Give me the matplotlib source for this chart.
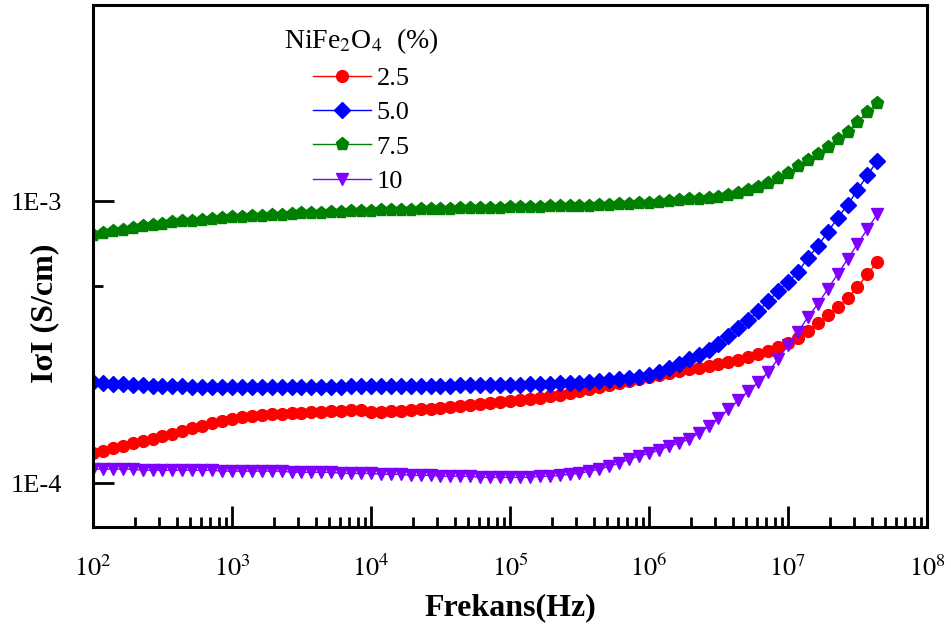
import numpy as np
import matplotlib
matplotlib.use("Agg")
import matplotlib.pyplot as plt
from matplotlib.ticker import FixedLocator, FixedFormatter, NullFormatter, LogLocator

plt.rcParams['font.family'] = ['Liberation Serif', 'DejaVu Serif']
plt.rcParams['mathtext.fontset'] = 'stix'

# frequency sweep (Hz)
freq = [
    100, 118, 139, 164, 193, 228, 268, 316, 373, 439, 518, 611, 720, 848,
    1000, 1179, 1389, 1638, 1931, 2276, 2683, 3162, 3728, 4394, 5179, 6105, 7197, 8483,
    1.000e4, 1.179e4, 1.389e4, 1.638e4, 1.931e4, 2.276e4, 2.683e4, 3.162e4, 3.728e4, 4.394e4, 5.179e4, 6.105e4, 7.197e4, 8.483e4,
    1.000e5, 1.179e5, 1.389e5, 1.638e5, 1.931e5, 2.276e5, 2.683e5, 3.162e5, 3.728e5, 4.394e5, 5.179e5, 6.105e5, 7.197e5, 8.483e5,
    1.000e6, 1.179e6, 1.389e6, 1.638e6, 1.931e6, 2.276e6, 2.683e6, 3.162e6, 3.728e6, 4.394e6, 5.179e6, 6.105e6, 7.197e6, 8.483e6,
    1.000e7, 1.179e7, 1.389e7, 1.638e7, 1.931e7, 2.276e7, 2.683e7, 3.162e7, 3.728e7, 4.394e7,
]

# log10 of |sigma| (S/cm)
log_s_25 = [
    -3.894, -3.887, -3.876, -3.869, -3.858, -3.851, -3.844, -3.833, -3.826, -3.816, -3.805, -3.798, -3.787, -3.780,
    -3.773, -3.766, -3.762, -3.759, -3.755, -3.755, -3.752, -3.752, -3.748, -3.748, -3.745, -3.745, -3.741, -3.741,
    -3.748, -3.748, -3.745, -3.745, -3.741, -3.738, -3.738, -3.734, -3.730, -3.727, -3.723, -3.720, -3.716, -3.713,
    -3.709, -3.706, -3.702, -3.699, -3.691, -3.688, -3.681, -3.674, -3.667, -3.660, -3.652, -3.645, -3.638, -3.631,
    -3.624, -3.617, -3.610, -3.603, -3.596, -3.592, -3.585, -3.578, -3.571, -3.564, -3.553, -3.543, -3.532, -3.518,
    -3.504, -3.486, -3.461, -3.433, -3.404, -3.376, -3.344, -3.305, -3.259, -3.216,
]
log_s_50 = [
    -3.642, -3.645, -3.647, -3.649, -3.651, -3.653, -3.654, -3.655, -3.656, -3.657, -3.658, -3.659, -3.659, -3.660,
    -3.660, -3.660, -3.660, -3.660, -3.660, -3.660, -3.659, -3.659, -3.659, -3.658, -3.658, -3.658, -3.657, -3.657,
    -3.656, -3.656, -3.656, -3.655, -3.655, -3.655, -3.654, -3.654, -3.654, -3.653, -3.653, -3.652, -3.652, -3.652,
    -3.652, -3.651, -3.650, -3.649, -3.648, -3.646, -3.645, -3.643, -3.640, -3.637, -3.634, -3.631, -3.628, -3.624,
    -3.617, -3.604, -3.590, -3.577, -3.560, -3.544, -3.526, -3.508, -3.479, -3.450, -3.422, -3.390, -3.355, -3.319,
    -3.287, -3.252, -3.202, -3.160, -3.110, -3.060, -3.014, -2.961, -2.908, -2.858,
]
log_s_75 = [
    -3.120, -3.113, -3.107, -3.101, -3.095, -3.090, -3.085, -3.080, -3.076, -3.072, -3.069, -3.066, -3.063, -3.061,
    -3.058, -3.056, -3.054, -3.052, -3.050, -3.048, -3.046, -3.044, -3.043, -3.041, -3.040, -3.038, -3.037, -3.035,
    -3.034, -3.033, -3.032, -3.031, -3.030, -3.029, -3.028, -3.027, -3.027, -3.026, -3.025, -3.024, -3.024, -3.023,
    -3.022, -3.021, -3.021, -3.020, -3.019, -3.019, -3.018, -3.017, -3.016, -3.015, -3.013, -3.012, -3.010, -3.008,
    -3.006, -3.003, -3.000, -2.997, -2.994, -2.991, -2.988, -2.984, -2.978, -2.970, -2.961, -2.950, -2.936, -2.920,
    -2.902, -2.877, -2.853, -2.832, -2.807, -2.781, -2.755, -2.720, -2.686, -2.652,
]
log_s_10 = [
    -3.950, -3.950, -3.950, -3.950, -3.950, -3.954, -3.954, -3.954, -3.954, -3.954, -3.954, -3.954, -3.954, -3.957,
    -3.957, -3.957, -3.957, -3.957, -3.957, -3.957, -3.961, -3.961, -3.961, -3.961, -3.961, -3.965, -3.965, -3.965,
    -3.965, -3.968, -3.968, -3.968, -3.972, -3.972, -3.972, -3.975, -3.975, -3.975, -3.975, -3.979, -3.979, -3.979,
    -3.979, -3.979, -3.979, -3.975, -3.975, -3.972, -3.968, -3.965, -3.957, -3.950, -3.940, -3.929, -3.915, -3.904,
    -3.894, -3.883, -3.869, -3.858, -3.844, -3.823, -3.798, -3.770, -3.738, -3.706, -3.674, -3.642, -3.606, -3.560,
    -3.511, -3.465, -3.411, -3.365, -3.312, -3.259, -3.206, -3.152, -3.099, -3.046,
]

labels = ['2.5', '5.0', '7.5', '10']
colors = ['#ff0000', '#0000ff', '#008000', '#7f00ff']
markers = ['o', 'D', 'p', 'v']
msizes = [8.5, 8, 9.5, 9]

x_major = [1e2, 1e3, 1e4, 1e5, 1e6, 1e7, 1e8]
x_major_labels = ['$10^{2}$', '$10^{3}$', '$10^{4}$', '$10^{5}$', '$10^{6}$', '$10^{7}$', '$10^{8}$']

fig = plt.figure(figsize=(9.51, 6.28), dpi=100)
ax = fig.add_axes([93 / 951, 1 - 527 / 628, 834 / 951, 522 / 628])

for ls, lab, c, m, s in zip([log_s_25, log_s_50, log_s_75, log_s_10], labels, colors, markers, msizes):
    ax.plot(freq, 10 ** np.array(ls), color=c, marker=m, ms=s, lw=1, label=lab)

ax.set_xscale('log')
ax.set_yscale('log')
ax.set_xlim(1e2, 1e8)
ax.set_ylim(7e-5, 4.95e-3)

ax.yaxis.set_major_locator(FixedLocator([1e-4, 1e-3]))
ax.yaxis.set_major_formatter(FixedFormatter(['1E-4', '1E-3']))
ax.yaxis.set_minor_locator(FixedLocator([5e-4]))
ax.yaxis.set_minor_formatter(NullFormatter())
ax.xaxis.set_major_locator(FixedLocator(x_major))
ax.xaxis.set_major_formatter(FixedFormatter(x_major_labels))
ax.xaxis.set_minor_locator(LogLocator(base=10, subs=np.arange(2, 10), numticks=20))
ax.xaxis.set_minor_formatter(NullFormatter())

ax.tick_params(which='major', direction='in', length=15, width=2, labelsize=19, pad=20,
               top=False, right=False)
ax.tick_params(axis='y', which='major', pad=22)
ax.tick_params(which='minor', direction='in', length=7, width=2, top=False, right=False)
for sp in ax.spines.values():
    sp.set_linewidth(2.2)

ax.set_xlabel('Frekans(Hz)', fontsize=23, fontweight='bold', labelpad=9)
ax.set_ylabel('IσI (S/cm)', fontsize=23, fontweight='bold')
ax.yaxis.set_label_coords(-0.041, 0.41)

leg = ax.legend(title='NiFe$_2$O$_4$  (%)', loc='upper center', bbox_to_anchor=(0.322, 0.98),
                frameon=False, fontsize=19, title_fontsize=20, handlelength=2.2,
                labelspacing=0.41, handletextpad=0.2, borderaxespad=0)

fig.savefig('out.png', dpi=100)
